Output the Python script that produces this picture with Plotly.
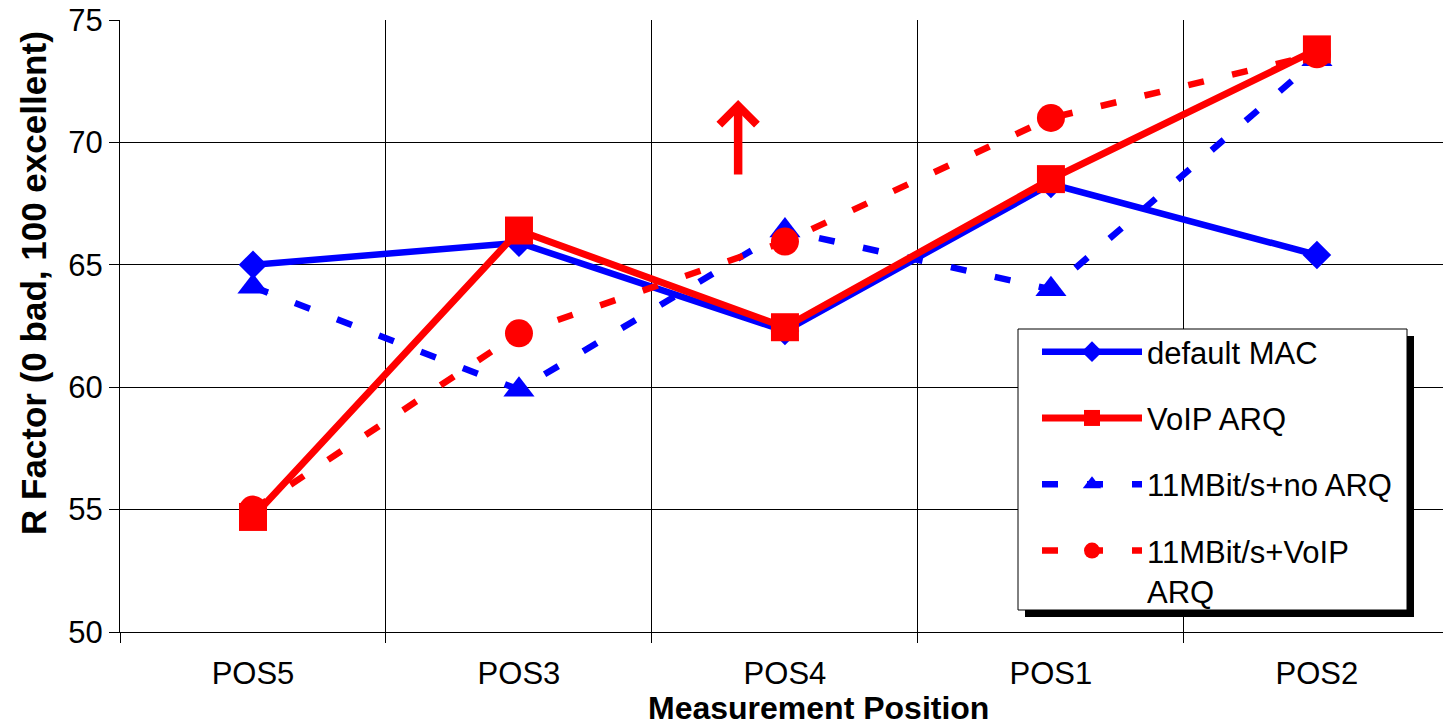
import plotly.graph_objects as go

categories = ["POS5", "POS3", "POS4", "POS1", "POS2"]
default_mac = [65.0, 65.9, 62.3, 68.3, 65.4]
voip_arq = [54.7, 66.4, 62.45, 68.5, 73.8]
no_arq_11 = [64.1, 59.9, 66.4, 64.0, 73.4]
voip_arq_11 = [55.0, 62.2, 65.95, 71.0, 73.6]

y_ticks = [50, 55, 60, 65, 70, 75]

BLUE = "#0000ff"
RED = "#ff0000"
FONT = "Liberation Sans, Arial, sans-serif"

W, H = 1443, 727
ML, MR, MT, MB = 120, 0, 20, 95
PW, PH = W - ML - MR, H - MT - MB


def px_x(p):
    return (p - ML) / PW


def px_y(p):
    return (H - MB - p) / PH


fig = go.Figure()

fig.add_trace(go.Scatter(
    x=categories, y=default_mac, name="default MAC", mode="lines+markers",
    line=dict(color=BLUE, width=6.5), marker=dict(symbol="diamond", size=22, color=BLUE),
    legendrank=1, legendgroup="a"))
fig.add_trace(go.Scatter(
    x=categories, y=no_arq_11, name="11MBit/s+no ARQ", mode="lines+markers",
    line=dict(color=BLUE, width=6.5, dash="16px,29px"),
    marker=dict(symbol="triangle-up", size=27, color=BLUE),
    legendrank=3, legendgroup="c"))
fig.add_trace(go.Scatter(
    x=categories, y=voip_arq_11, name="11MBit/s+VoIP<br>ARQ", mode="lines+markers",
    line=dict(color=RED, width=6.5, dash="16px,29px"),
    marker=dict(symbol="circle", size=28, color=RED),
    legendrank=4, legendgroup="d"))
fig.add_trace(go.Scatter(
    x=categories, y=voip_arq, name="VoIP ARQ", mode="lines+markers",
    line=dict(color=RED, width=7), marker=dict(symbol="square", size=28, color=RED),
    legendrank=2, legendgroup="b"))

# legend box with shadow
fig.add_shape(type="rect", xref="paper", yref="paper",
              x0=px_x(1025), x1=px_x(1414), y0=px_y(617), y1=px_y(336),
              fillcolor="black", line=dict(width=0), layer="above")
fig.add_shape(type="rect", xref="paper", yref="paper",
              x0=px_x(1018), x1=px_x(1407), y0=px_y(610), y1=px_y(329),
              fillcolor="white", line=dict(color="black", width=1), layer="above")

# red arrow
fig.add_annotation(x=1.824, y=71.73, ax=1.824, ay=68.63, xref="x", yref="y",
                   axref="x", ayref="y", text="", showarrow=True,
                   arrowhead=4, arrowsize=0.85, arrowwidth=8.5, arrowcolor=RED,
                   standoff=0, startstandoff=0)

# axis titles
fig.add_annotation(x=px_x(818), y=px_y(727), xref="paper", yref="paper",
                   text="<b>Measurement Position</b>", showarrow=False,
                   font=dict(size=32, family=FONT, color="black"),
                   xanchor="center", yanchor="bottom", borderpad=0)
fig.add_annotation(x=px_x(33), y=px_y(283), xref="paper", yref="paper",
                   text="<b>R Factor (0 bad, 100 excellent)</b>", showarrow=False,
                   textangle=-90, font=dict(size=35, family=FONT, color="black"),
                   xanchor="center", yanchor="middle")

fig.update_layout(
    width=W, height=H,
    margin=dict(l=ML, r=MR, t=MT, b=MB),
    paper_bgcolor="white", plot_bgcolor="white",
    font=dict(family=FONT, size=31, color="black"),
    showlegend=True,
    legend=dict(x=px_x(1037), y=px_y(325), xanchor="left", yanchor="top",
                bgcolor="rgba(0,0,0,0)", borderwidth=0, valign="top",
                tracegroupgap=23, font=dict(size=31, family=FONT),
                itemsizing="trace", itemwidth=100),
    xaxis=dict(
        type="category", categoryorder="array", categoryarray=categories,
        range=[-0.5, 4.474], tickson="boundaries",
        showgrid=True, gridcolor="black", gridwidth=1,
        showline=True, linecolor="black", linewidth=1,
        ticks="outside", ticklen=10, tickcolor="black",
        tickfont=dict(size=31), ticklabelstandoff=14,
        automargin=False, zeroline=False,
    ),
    yaxis=dict(
        range=[50, 75], tickvals=y_ticks,
        showgrid=True, gridcolor="black", gridwidth=1,
        showline=True, linecolor="black", linewidth=1,
        ticks="outside", ticklen=10, tickcolor="black",
        tickfont=dict(size=31),
        automargin=False, zeroline=False,
    ),
)

fig.write_html("out.html")
